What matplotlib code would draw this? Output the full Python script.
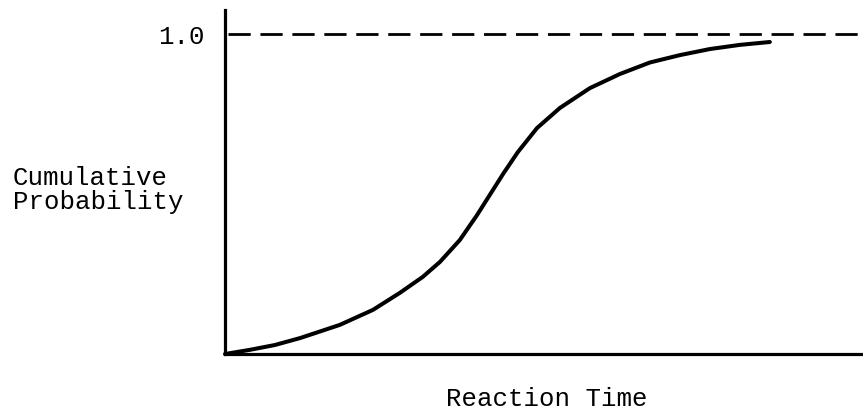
import matplotlib
matplotlib.use('Agg')
import matplotlib.pyplot as plt

# values (arbitrary time units)
reaction_time = [0.0, 0.39, 0.78, 1.18, 1.80, 2.32, 2.74, 3.10, 3.37, 3.68, 3.95, 4.15,
                 4.36, 4.59, 4.89, 5.25, 5.72, 6.19, 6.66, 7.13, 7.60, 8.07, 8.54]
cumulative_prob = [0.0, 0.013, 0.028, 0.05, 0.091, 0.138, 0.191, 0.241, 0.288, 0.356, 0.434, 0.497,
                   0.563, 0.631, 0.706, 0.769, 0.831, 0.875, 0.911, 0.934, 0.953, 0.966, 0.975]
asymptote = 1.0
y_ticks = [1.0]
y_tick_labels = ['1.0']

plt.rcParams['font.family'] = ['Liberation Mono', 'DejaVu Sans Mono']
plt.rcParams['lines.scale_dashes'] = False
font_size = 18.5
font_weight = 'normal'

fig = plt.figure(figsize=(8.63, 4.11), dpi=100)
ax = fig.add_axes([225 / 863, 57 / 411, 638 / 863, 344 / 411])

ax.plot(reaction_time, cumulative_prob, color='black', linewidth=2.9,
        solid_capstyle='round', solid_joinstyle='round', clip_on=False)
ax.axhline(asymptote, xmin=0.005, xmax=1.0, color='black', linewidth=2.0,
           linestyle=(0, (16, 7)))

ax.set_xlim(0, 10)
ax.set_ylim(0, 1.075)

for side in ['top', 'right']:
    ax.spines[side].set_visible(False)
for side in ['left', 'bottom']:
    ax.spines[side].set_linewidth(2.3)
    ax.spines[side].set_color('black')

ax.set_xticks([])
ax.set_yticks(y_ticks)
ax.set_yticklabels(y_tick_labels, fontsize=font_size, fontweight=font_weight)
ax.tick_params(axis='y', length=0, pad=15)

fig.text(13 / 863, 1 - 190 / 411, 'Cumulative\nProbability', ha='left', va='center',
         fontsize=font_size, fontweight=font_weight, linespacing=0.95)
fig.text(547 / 863, 1 - 399 / 411, 'Reaction Time', ha='center', va='center',
         fontsize=font_size, fontweight=font_weight)

fig.savefig('out.png', dpi=100)
